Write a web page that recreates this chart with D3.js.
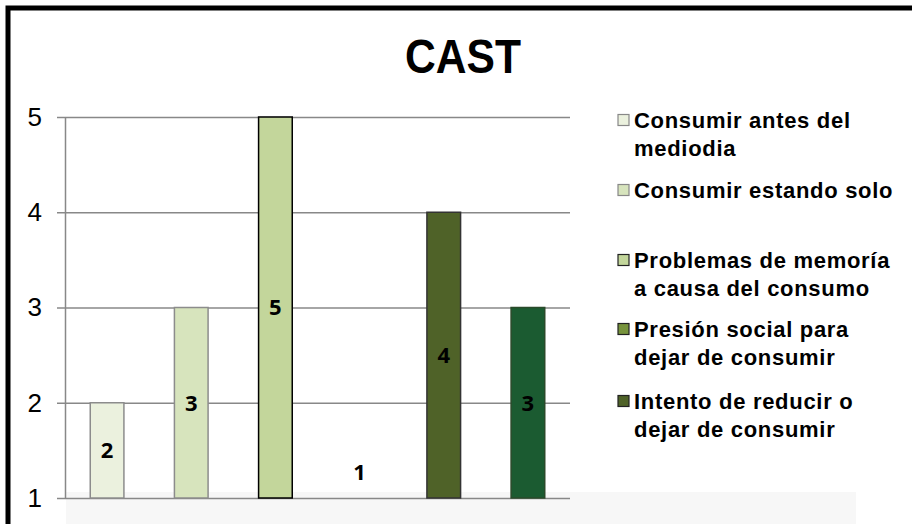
<!DOCTYPE html>
<html>
<head>
<meta charset="utf-8">
<script src="https://cdn.jsdelivr.net/npm/d3@7"></script>
<style>
  body { margin: 0; background: #fff; }
  svg { display: block; }
</style>
</head>
<body>
<svg id="chart" width="912" height="524"></svg>
<script>
// datos del gráfico
var title = "CAST";
var values = [2, 3, 5, 1, 4, 3];
var barColors = ["#ebf1de", "#d7e4bd", "#c3d69b", "#77933c", "#4f6228", "#1b5b31"];
var barStrokes = ["#8c8c8c", "#8c8c8c", "#000000", "#555555", "#333333", "#2a4a2a"];
var legendLabels = [
  ["Consumir antes del", "mediodia"],
  ["Consumir estando solo"],
  ["Problemas de memoría", "a causa del consumo"],
  ["Presión social para", "dejar de consumir"],
  ["Intento de reducir o", "dejar de consumir"]
];
var legendY = [120, 190, 260, 329, 401];
var yTicks = [1, 2, 3, 4, 5];

var svg = d3.select("#chart");

// marco
svg.append("path")
    .attr("d", "M8,524 L8,8 L912,8")
    .attr("fill", "none")
    .attr("stroke", "#000")
    .attr("stroke-width", 5);

// reflejo claro bajo el eje
svg.append("rect")
    .attr("x", 66).attr("y", 492).attr("width", 790).attr("height", 32)
    .attr("fill", "#f7f7f7");

// título
svg.append("text")
    .attr("x", 405).attr("y", 73)
    .attr("textLength", 116)
    .attr("lengthAdjust", "spacingAndGlyphs")
    .style("font-family", "'Liberation Sans', Arial, sans-serif")
    .style("font-weight", "bold")
    .style("font-size", "49px")
    .text(title);

var x0 = 65, x1 = 570;
var x_scale = d3.scaleBand()
    .domain(d3.range(values.length))
    .range([x0, x1])
    .paddingInner(0.6)
    .paddingOuter(0.3);

var y_scale = d3.scaleLinear()
    .domain([1, 5])
    .range([498, 117]);

// líneas de cuadrícula
svg.append("g")
    .attr("transform", "translate(" + x0 + ",0)")
    .call(d3.axisLeft(y_scale).tickValues(yTicks).tickSizeInner(-(x1 - x0)).tickSizeOuter(0).tickFormat(""))
    .call(function(g){
      g.select(".domain").attr("stroke", "#888").attr("stroke-width", 1.5);
      g.selectAll(".tick line").attr("stroke", "#888").attr("stroke-width", 1.5);
    });

// marcas y etiquetas del eje Y
svg.append("g")
    .attr("transform", "translate(" + x0 + ",0)")
    .call(d3.axisLeft(y_scale).tickValues(yTicks).tickFormat(d3.format("d")).tickSize(8).tickPadding(15))
    .call(function(g){
      g.select(".domain").remove();
      g.selectAll(".tick line").attr("stroke", "#888").attr("stroke-width", 1.5);
      g.selectAll(".tick text")
          .attr("fill", "#000")
          .style("font-family", "'Liberation Sans', Arial, sans-serif")
          .style("font-size", "26px");
    });

// barras
svg.selectAll("rect.bar")
    .data(values)
    .enter()
    .append("rect")
    .attr("class", "bar")
    .attr("x", function(d, i){ return x_scale(i); })
    .attr("width", x_scale.bandwidth())
    .attr("y", function(d){ return y_scale(d); })
    .attr("height", function(d){ return y_scale(1) - y_scale(d); })
    .attr("fill", function(d, i){ return barColors[i]; })
    .attr("stroke", function(d, i){ return barStrokes[i]; })
    .attr("stroke-width", function(d){ return d > 1 ? 1.5 : 0; });

// etiquetas de valor
svg.selectAll("text.val")
    .data(values)
    .enter()
    .append("text")
    .attr("class", "val")
    .attr("x", function(d, i){ return x_scale(i) + x_scale.bandwidth() / 2; })
    .attr("y", function(d){ return Math.min((y_scale(d) + y_scale(1)) / 2, y_scale(1) - 26); })
    .attr("dy", "0.36em")
    .attr("text-anchor", "middle")
    .style("font-family", "'Open Sans', Carlito, sans-serif")
    .style("font-weight", "bold")
    .style("font-size", "22px")
    .text(function(d){ return d; });

// leyenda
var lg = svg.selectAll("g.legend")
    .data(legendLabels)
    .enter()
    .append("g")
    .attr("class", "legend")
    .attr("transform", function(d, i){ return "translate(618," + legendY[i] + ")"; });

lg.append("rect")
    .attr("x", 0).attr("y", -5.5).attr("width", 11).attr("height", 11)
    .attr("fill", function(d, i){ return barColors[i]; })
    .attr("stroke", function(d, i){ return i < 2 ? "#888" : "#222"; })
    .attr("stroke-width", 1.2);

lg.append("text")
    .style("font-family", "'Liberation Sans', Arial, sans-serif")
    .style("font-weight", "bold")
    .style("font-size", "22px")
    .style("letter-spacing", "0.7px")
    .selectAll("tspan")
    .data(function(d){ return d; })
    .enter()
    .append("tspan")
    .attr("x", 16)
    .attr("y", function(d, j){ return j * 28; })
    .attr("dy", "0.36em")
    .text(function(d){ return d; });
</script>
</body>
</html>
